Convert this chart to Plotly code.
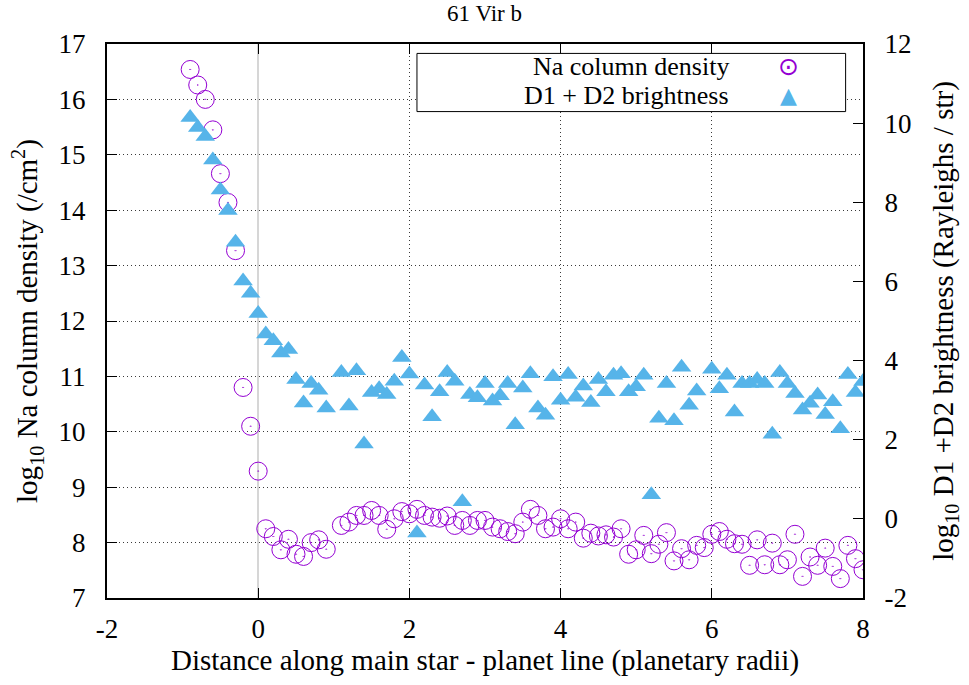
import plotly.graph_objects as go

# ---------------- data ----------------
x_pos = [-0.9, -0.8, -0.7, -0.6, -0.5, -0.4, -0.3, -0.2, -0.1, 0.0,
         0.1, 0.2, 0.3, 0.4, 0.5, 0.6, 0.7, 0.8, 0.9, 1.0,
         1.1, 1.2, 1.3, 1.4, 1.5, 1.6, 1.7, 1.8, 1.9, 2.0,
         2.1, 2.2, 2.3, 2.4, 2.5, 2.6, 2.7, 2.8, 2.9, 3.0,
         3.1, 3.2, 3.3, 3.4, 3.5, 3.6, 3.7, 3.8, 3.9, 4.0,
         4.1, 4.2, 4.3, 4.4, 4.5, 4.6, 4.7, 4.8, 4.9, 5.0,
         5.1, 5.2, 5.3, 5.4, 5.5, 5.6, 5.7, 5.8, 5.9, 6.0,
         6.1, 6.2, 6.3, 6.4, 6.5, 6.6, 6.7, 6.8, 6.9, 7.0,
         7.1, 7.2, 7.3, 7.4, 7.5, 7.6, 7.7, 7.8, 7.9, 8.0]

na_density = [16.54, 16.26, 16.00, 15.45, 14.66, 14.14, 13.27, 10.80, 10.10, 9.29,
              8.25, 8.11, 7.87, 8.06, 7.79, 7.75, 8.00, 8.05, 7.88, None,
              8.31, 8.37, 8.49, 8.49, 8.58, 8.49, 8.24, 8.43, 8.56, 8.52,
              8.60, 8.49, 8.46, 8.44, 8.48, 8.31, 8.40, 8.31, 8.40, 8.40,
              8.28, 8.25, 8.20, 8.16, 8.37, 8.60, 8.49, 8.25, 8.28, 8.43,
              8.25, 8.37, 8.08, 8.17, 8.12, 8.14, 8.10, 8.25, 7.79, 7.87,
              8.13, 7.80, 7.97, 8.18, 7.67, 7.89, 7.69, 7.95, 7.91, 8.15,
              8.20, 8.06, 7.98, 7.97, 7.59, 8.05, 7.60, 7.99, 7.60, 7.69,
              8.15, 7.39, 7.74, 7.59, 7.90, 7.57, 7.35, 7.95, 7.71, 7.51]

brightness = [10.14, 9.89, 9.66, 9.07, 8.31, 7.79, 6.99, 6.01, 5.70, 5.19,
              4.67, 4.50, 4.19, 4.28, 3.52, 2.93, 3.42, 3.25, 2.80, None,
              3.70, 2.85, 3.74, 1.89, 3.19, 3.29, 3.14, 3.48, 4.08, 3.66,
              -0.36, 3.38, 2.58, 3.21, 3.70, 3.48, 0.43, 3.14, 3.06, 3.42,
              2.98, 3.11, 3.42, 2.38, 3.31, 3.67, 2.80, 2.62, 3.59, 3.00,
              3.65, 3.07, 3.36, 2.94, 3.52, 3.21, 3.63, 3.67, 3.21, 3.34,
              3.63, 0.61, 2.54, 3.42, 2.48, 3.83, 2.87, 3.23, None, 3.78,
              3.29, 3.63, 2.70, 3.42, 3.42, 3.52, 3.42, 2.14, 3.70, 3.42,
              3.17, 2.75, 2.92, 3.13, 2.64, 2.96, 2.28, 3.65, 3.19, 3.47]

x_tickvals = [-2, 0, 2, 4, 6, 8]
x_ticktext = ["-2", "0", "2", "4", "6", "8"]
y_tickvals = [7, 8, 9, 10, 11, 12, 13, 14, 15, 16, 17]
y_ticktext = ["7", "8", "9", "10", "11", "12", "13", "14", "15", "16", "17"]
y2_tickvals = [-2, 0, 2, 4, 6, 8, 10, 12]
y2_ticktext = ["-2", "0", "2", "4", "6", "8", "10", "12"]

series_names = ["Na column density", "D1 + D2 brightness"]
legend_glyphs = ["\u2299", "\u25B2"]
title_text = "61 Vir b"
x_title = "Distance along main star - planet line (planetary radii)"
y_title = "log<sub>10</sub> Na column density (/cm<sup>2</sup>)"
y2_title = "log<sub>10</sub> D1 +D2 brightness (Rayleighs / str)"

# ---------------- style ----------------
PURPLE = "#9400D3"
BLUE = "#56B4E9"
FONT = "Liberation Serif"
GRID = "#3a3a3a"

fig = go.Figure()

circle_marker = dict(symbol="circle-open-dot", size=18, color=PURPLE,
                     line=dict(width=1, color=PURPLE))
tri_marker = dict(symbol="triangle-up", size=17, color=BLUE,
                  line=dict(width=0))

fig.add_trace(go.Scatter(x=x_pos, y=na_density, mode="markers",
                         name=series_names[0], marker=circle_marker,
                         showlegend=False, yaxis="y"))
fig.add_trace(go.Scatter(x=x_pos, y=brightness, mode="markers",
                         name=series_names[1], marker=tri_marker,
                         showlegend=False, yaxis="y2"))

axis_common = dict(
    showline=True, linecolor="black", linewidth=2,
    ticks="inside", ticklen=10, tickwidth=1, tickcolor="black",
    tickfont=dict(family=FONT, size=27, color="black"),
)

fig.update_layout(
    width=969, height=685,
    margin=dict(l=107, r=106, t=44, b=87),
    paper_bgcolor="white", plot_bgcolor="white",
    font=dict(family=FONT, color="black"),
    title=dict(text=title_text, x=0.5, xanchor="center",
               yref="container", y=1 - 13 / 685, yanchor="middle",
               font=dict(family=FONT, size=23, color="black")),
    xaxis=dict(range=[-2, 8], tickvals=x_tickvals, ticktext=x_ticktext,
               mirror="ticks", showgrid=True, gridcolor=GRID, gridwidth=1,
               griddash="1px,3px", zeroline=True, zerolinecolor="#d6d6d6",
               zerolinewidth=2, ticklabelstandoff=6,
               title=dict(text=x_title, standoff=3,
                          font=dict(family=FONT, size=29, color="black")),
               **axis_common),
    yaxis=dict(range=[7, 17], tickvals=y_tickvals, ticktext=y_ticktext,
               mirror=False, showgrid=True, gridcolor=GRID, gridwidth=1,
               griddash="1px,3px", zeroline=False, ticklabelstandoff=14,
               title=dict(text=y_title, standoff=12,
                          font=dict(family=FONT, size=29, color="black")),
               **axis_common),
    yaxis2=dict(range=[-2, 12], tickvals=y2_tickvals, ticktext=y2_ticktext,
                overlaying="y", side="right", showgrid=False, zeroline=False,
                ticklabelstandoff=14,
                title=dict(text=y2_title, standoff=22,
                           font=dict(family=FONT, size=29, color="black")),
                **axis_common),
    showlegend=False,
)

# key frame (gnuplot-style key: label right-aligned, sample symbol on the right)
fig.add_shape(type="rect", xref="paper", yref="paper",
              x0=0.410, x1=0.977, y0=0.878, y1=0.983,
              line=dict(color="black", width=1), fillcolor="white", layer="above")

key_rows_px = [66.5, 95.5]
glyph_colors = [PURPLE, BLUE]
glyph_sizes = [25, 22]
for name, glyph, col, gs, ypx in zip(series_names, legend_glyphs, glyph_colors,
                                     glyph_sizes, key_rows_px):
    yy = (598 - ypx) / 554
    fig.add_annotation(text=name, xref="paper", yref="paper", x=(731 - 107) / 756,
                       y=yy, xanchor="right", yanchor="middle", showarrow=False,
                       font=dict(family=FONT, size=26, color="black"))
    fig.add_annotation(text=glyph, xref="paper", yref="paper", x=(788 - 107) / 756,
                       y=yy, xanchor="center", yanchor="middle", showarrow=False,
                       font=dict(family="DejaVu Sans", size=gs, color=col))

fig.write_html("out.html")
